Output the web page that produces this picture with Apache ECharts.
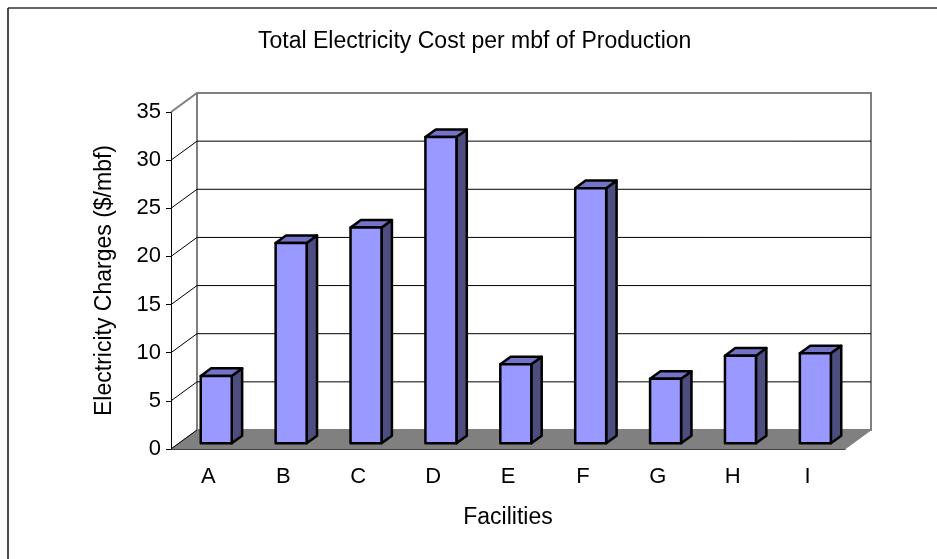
<!DOCTYPE html>
<html>
<head>
    <meta charset="UTF-8">
    <title>Total Electricity Cost per mbf of Production</title>
</head>
<style>
    html, body { margin: 0; padding: 0; background: #fff; }
    #chart { width: 937px; height: 559px; }
</style>
<body>
<div id="chart"></div>
<script src="https://cdn.jsdelivr.net/npm/echarts@6/dist/echarts.min.js"></script>
<script>
    var facilities = ['A', 'B', 'C', 'D', 'E', 'F', 'G', 'H', 'I'];
    var charges = [7.0, 20.8, 22.4, 31.8, 8.2, 26.5, 6.7, 9.1, 9.35];
    var yTicks = [0, 5, 10, 15, 20, 25, 30, 35];

    // fake 3d: how far the back wall sits behind the front plane
    var DEPTH_X = 26, DEPTH_Y = -19;
    var FRONT = 0.3, BAR_D = 0.4, BAR_W = 0.414;
    var FONT = 'Liberation Sans, Arial, sans-serif';

    var draw = echarts.init(document.getElementById('chart'));

    function renderWalls(params, api) {
        var cs = params.coordSys;
        var left = cs.x, right = cs.x + cs.width;
        var y0 = api.coord([0, yTicks[0]])[1];
        var yTop = api.coord([0, yTicks[yTicks.length - 1]])[1];
        var items = [];
        // back wall
        items.push({
            type: 'rect',
            shape: {x: left + DEPTH_X, y: yTop + DEPTH_Y, width: cs.width, height: y0 - yTop},
            style: {fill: '#fff', stroke: '#808080', lineWidth: 2}
        });
        for (var i = 1; i < yTicks.length; i++) {
            var y = api.coord([0, yTicks[i]])[1];
            var last = i === yTicks.length - 1;
            items.push({
                type: 'polyline',
                shape: {points: [[left, y], [left + DEPTH_X, y + DEPTH_Y], [right + DEPTH_X, y + DEPTH_Y]]},
                style: {fill: null, stroke: last ? '#808080' : '#000', lineWidth: last ? 2 : 1}
            });
        }
        // floor
        items.push({
            type: 'polygon',
            shape: {points: [[left, y0], [right, y0], [right + DEPTH_X, y0 + DEPTH_Y], [left + DEPTH_X, y0 + DEPTH_Y]]},
            style: {fill: '#808080', stroke: '#808080', lineWidth: 1}
        });
        items.push({
            type: 'line',
            shape: {x1: left, y1: y0, x2: left + DEPTH_X, y2: y0 + DEPTH_Y},
            style: {stroke: '#000', lineWidth: 1}
        });
        return {type: 'group', children: items};
    }

    function renderBar(params, api) {
        var idx = api.value(0), v = api.value(1);
        var base = api.coord([idx, 0]);
        var top = api.coord([idx, v]);
        var w = api.size([1, 0])[0] * BAR_W;
        var x0 = base[0] - w / 2 + DEPTH_X * FRONT, x1 = x0 + w;
        var yb = base[1] + DEPTH_Y * FRONT, yt = top[1] + DEPTH_Y * FRONT;
        var dx = DEPTH_X * BAR_D, dy = DEPTH_Y * BAR_D;
        var line = {stroke: '#000', lineWidth: 2.5, lineJoin: 'round'};
        return {
            type: 'group',
            children: [
                {type: 'polygon', shape: {points: [[x1, yb], [x1 + dx, yb + dy], [x1 + dx, yt + dy], [x1, yt]]},
                    style: Object.assign({fill: '#4d4d80'}, line)},
                {type: 'polygon', shape: {points: [[x0, yt], [x1, yt], [x1 + dx, yt + dy], [x0 + dx, yt + dy]]},
                    style: Object.assign({fill: '#7373c8'}, line)},
                {type: 'rect', shape: {x: x0, y: yt, width: w, height: yb - yt},
                    style: Object.assign({fill: '#9999ff'}, line)}
            ]
        };
    }

    var option = {
        backgroundColor: '#fff',
        animation: false,
        title: {
            text: 'Total Electricity Cost per mbf of Production',
            left: 258,
            top: 30,
            padding: 0,
            textStyle: {fontFamily: FONT, fontSize: 23, fontWeight: 'normal', color: '#000'}
        },
        graphic: [
            {type: 'line', shape: {x1: 8, y1: 8, x2: 937, y2: 8}, style: {stroke: '#333', lineWidth: 1.5}},
            {type: 'line', shape: {x1: 8, y1: 8, x2: 8, y2: 559}, style: {stroke: '#111', lineWidth: 1.5}}
        ],
        grid: {left: 171, top: 112, right: 92, bottom: 110, containLabel: false},
        xAxis: {
            type: 'category',
            data: facilities,
            name: 'Facilities',
            nameLocation: 'middle',
            nameGap: 57,
            nameTextStyle: {fontFamily: FONT, fontSize: 23, color: '#000'},
            axisLine: {lineStyle: {color: '#000', width: 1}},
            axisTick: {alignWithLabel: false, interval: 0, length: 6, lineStyle: {color: '#000'}},
            axisLabel: {margin: 17, fontFamily: FONT, fontSize: 22, color: '#000'},
            splitLine: {show: false}
        },
        yAxis: {
            type: 'value',
            min: 0,
            max: 35,
            interval: 5,
            name: 'Electricity Charges ($/mbf)',
            nameLocation: 'middle',
            nameGap: 55,
            nameRotate: 90,
            nameTextStyle: {fontFamily: FONT, fontSize: 23, color: '#000'},
            axisLine: {show: true, lineStyle: {color: '#000', width: 1}},
            axisTick: {show: true, length: 5, lineStyle: {color: '#000'}},
            axisLabel: {margin: 10, fontFamily: FONT, fontSize: 22, color: '#000'},
            splitLine: {show: false}
        },
        series: [
            {
                type: 'custom',
                z: 1,
                silent: true,
                renderItem: renderWalls,
                data: [[0, 0]]
            },
            {
                type: 'custom',
                z: 2,
                renderItem: renderBar,
                data: charges.map(function (v, i) { return [i, v]; })
            }
        ]
    };
    draw.setOption(option);
</script>
</body>
</html>
